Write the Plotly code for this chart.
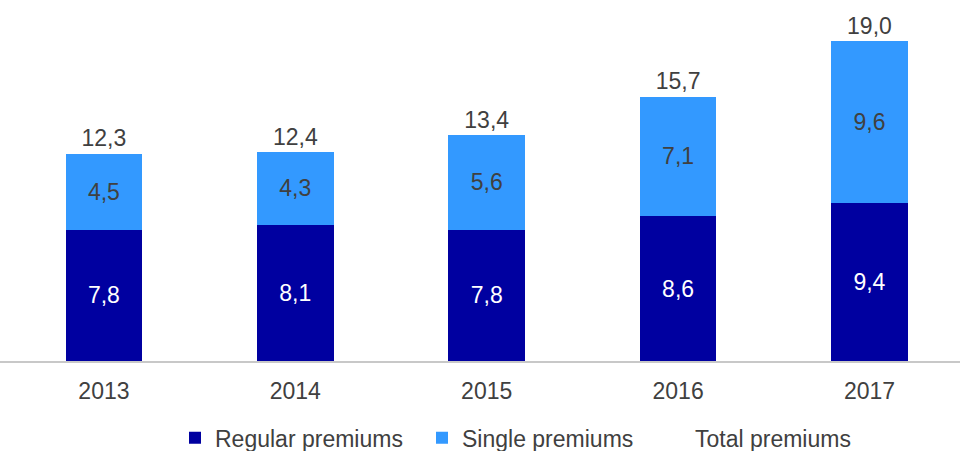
import plotly.graph_objects as go

years = ["2013", "2014", "2015", "2016", "2017"]
regular = [7.8, 8.1, 7.8, 8.6, 9.4]
single = [4.5, 4.3, 5.6, 7.1, 9.6]
total = [12.3, 12.4, 13.4, 15.7, 19.0]


def fmt(v):
    return f"{v:.1f}".replace(".", ",")


FONT = "Liberation Sans, Arial, sans-serif"
TEXT = "#404040"
SIZE = 23

fig = go.Figure()
fig.add_trace(go.Bar(
    x=years, y=regular, name="Regular premiums", legend="legend",
    marker=dict(color="#0000A0", line=dict(width=0)),
    text=[fmt(v) for v in regular], textposition="inside",
    insidetextanchor="middle",
    textfont=dict(family=FONT, size=SIZE, color="white"),
))
fig.add_trace(go.Bar(
    x=years, y=single, name="Single premiums", legend="legend2",
    marker=dict(color="#3399FF", line=dict(width=0)),
    text=[fmt(v) for v in single], textposition="inside",
    insidetextanchor="middle",
    textfont=dict(family=FONT, size=SIZE, color=TEXT),
))
fig.add_trace(go.Scatter(
    x=years, y=total, name="Total premiums", legend="legend3",
    mode="markers+text",
    marker=dict(color="rgba(0,0,0,0)", size=1, line=dict(width=0)),
    text=[fmt(v) for v in total], textposition="top center",
    textfont=dict(family=FONT, size=SIZE, color=TEXT),
    cliponaxis=False,
))

# one legend box per series, laid out along the bottom
legend_style = dict(
    orientation="h", xanchor="left", yanchor="middle", y=-0.217,
    font=dict(family=FONT, size=SIZE, color=TEXT),
    itemwidth=30, bgcolor="rgba(0,0,0,0)",
)

fig.update_layout(
    width=960, height=451,
    barmode="stack", bargap=0.6,
    margin=dict(l=0, r=0, t=7, b=90, autoexpand=False),
    paper_bgcolor="white", plot_bgcolor="white",
    font=dict(family=FONT, size=SIZE, color=TEXT),
    showlegend=True,
    uniformtext=dict(mode=False),
    legend=dict(legend_style, x=175 / 960),
    legend2=dict(legend_style, x=422 / 960),
    legend3=dict(legend_style, x=655 / 960),
    xaxis=dict(
        type="category", range=[-0.543, 4.473],
        showgrid=False, showline=True, linecolor="#C8C8C8", linewidth=1.5,
        ticks="", tickfont=dict(family=FONT, size=SIZE, color=TEXT),
        ticklabelstandoff=9, fixedrange=True,
    ),
    yaxis=dict(
        range=[0, 21.02], visible=False, showgrid=False, fixedrange=True,
    ),
)

fig.write_html("out.html")
